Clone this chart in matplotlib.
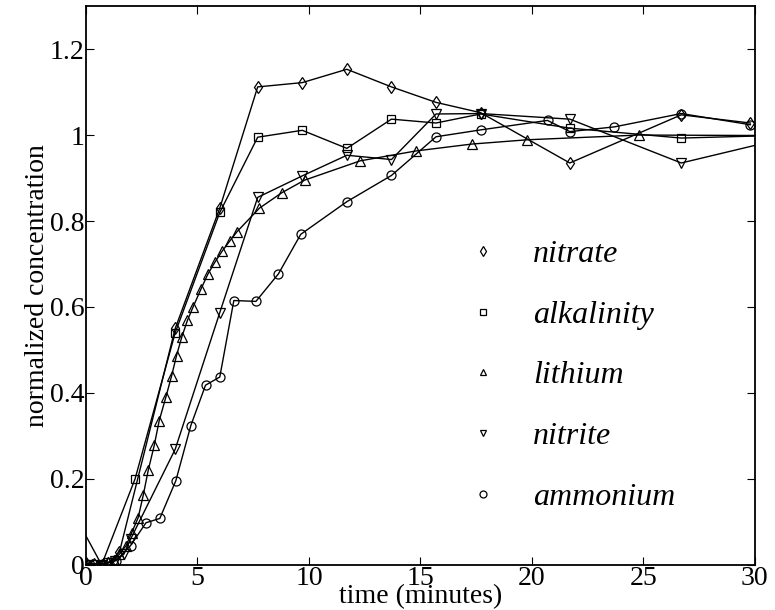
import numpy as np
import matplotlib.pyplot as plt

plt.rcParams['font.family'] = ['Liberation Serif', 'DejaVu Serif']

# nitrate (diamonds)
t_nitrate = [0, 0.35, 0.7, 1.0, 1.5, 4.0, 6.0, 7.7, 9.7, 11.7, 13.7, 15.7, 17.7, 21.7, 26.7, 29.8]
c_nitrate = [0.004, 0.002, 0.0, 0.005, 0.03, 0.55, 0.83, 1.112, 1.122, 1.153, 1.112, 1.076, 1.052, 0.935, 1.047, 1.028]

# alkalinity (squares)
t_alk = [0, 0.35, 0.7, 2.2, 4.0, 6.0, 7.7, 9.7, 11.7, 13.7, 15.7, 17.7, 21.7, 26.7, 31.7]
c_alk = [0.003, 0.002, 0.0, 0.2, 0.54, 0.82, 0.995, 1.011, 0.969, 1.037, 1.028, 1.049, 1.016, 0.993, 1.0]

# lithium (triangles)
t_li = [0, 0.25, 0.5, 0.75, 1.0, 1.25, 1.5, 1.8, 2.05, 2.34, 2.57, 2.79, 3.06, 3.28, 3.58, 3.84,
        4.06, 4.3, 4.55, 4.81, 5.15, 5.47, 5.79, 6.12, 6.44, 6.77, 7.78, 8.79, 9.8, 12.3, 14.8,
        17.3, 19.8, 24.8, 34.8]
c_li = [0.003, 0.002, 0.0, 0.003, 0.006, 0.012, 0.025, 0.045, 0.075, 0.11, 0.163, 0.22, 0.278,
        0.335, 0.39, 0.44, 0.487, 0.531, 0.569, 0.601, 0.641, 0.677, 0.705, 0.731, 0.753, 0.775,
        0.83, 0.866, 0.895, 0.94, 0.963, 0.979, 0.989, 1.0, 0.998]

# nitrite (down triangles)
t_nitrite = [-0.5, 0.7, 1.0, 1.3, 1.7, 2.0, 4.0, 6.0, 7.7, 9.7, 11.7, 13.7, 15.7, 17.7, 21.7, 26.7, 31.7]
c_nitrite = [0.115, 0.0, 0.005, 0.01, 0.025, 0.06, 0.269, 0.587, 0.855, 0.905, 0.953, 0.943,
             1.049, 1.05, 1.037, 0.935, 0.997]

# ammonium (circles)
t_amm = [0, 0.7, 1.35, 2.0, 2.69, 3.31, 4.03, 4.7, 5.36, 6.0, 6.63, 7.62, 8.63, 9.63, 11.7,
         13.7, 15.7, 17.7, 20.7, 21.7, 23.7, 26.7, 29.8]
c_amm = [0.003, 0.0, 0.01, 0.045, 0.098, 0.108, 0.196, 0.324, 0.418, 0.437, 0.615, 0.613, 0.677,
         0.769, 0.845, 0.906, 0.996, 1.012, 1.034, 1.008, 1.019, 1.05, 1.024]

series = [
    (t_nitrate, c_nitrate, 'd', 'nitrate'),
    (t_alk, c_alk, 's', 'alkalinity'),
    (t_li, c_li, '^', 'lithium'),
    (t_nitrite, c_nitrite, 'v', 'nitrite'),
    (t_amm, c_amm, 'o', 'ammonium'),
]

fig = plt.figure(figsize=(7.75, 6.1), dpi=100)
ax = fig.add_axes([0.111, 0.074, 0.863, 0.916])

for t, c, m, name in series:
    ax.plot(t, c, color='k', lw=1.0, marker=m, ms=6.5 if m != 's' else 5.5,
            mfc='none', mec='k', mew=0.9)
    ax.plot([], [], ls='none', marker=m, ms=5, mfc='none', mec='k', mew=0.9, label=name)

ax.set_xlim(0, 30)
ax.set_ylim(0, 1.3)
ax.set_xticks([0, 5, 10, 15, 20, 25, 30])
ax.set_yticks([0, 0.2, 0.4, 0.6, 0.8, 1.0, 1.2])
ax.set_yticklabels(['0', '0.2', '0.4', '0.6', '0.8', '1', '1.2'])
ax.tick_params(direction='in', top=True, right=True, length=6, width=0.8,
               labelsize=20, pad=1)
for s in ax.spines.values():
    s.set_linewidth(1.3)

ax.set_xlabel('time (minutes)', fontsize=20, labelpad=-5)
ax.set_ylabel('normalized concentration', fontsize=20, labelpad=0)

leg = ax.legend(loc='upper left', bbox_to_anchor=(0.57, 0.582), frameon=False,
                borderpad=0, borderaxespad=0,
                handlelength=1.0, handletextpad=1.06, labelspacing=0.98,
                prop={'family': 'Liberation Serif', 'style': 'italic', 'size': 23})

fig.savefig('out.png', dpi=100)
